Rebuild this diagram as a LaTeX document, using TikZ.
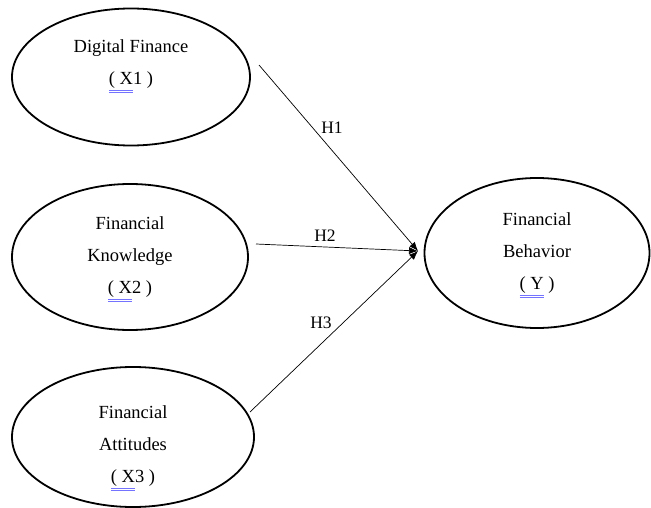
\documentclass[tikz,border=0pt]{standalone}
\usepackage{fontspec}
\setmainfont{Liberation Serif}
\newfontfamily\tnr{Liberation Serif}
\usetikzlibrary{shapes.geometric,arrows.meta}
\newcommand{\spl}[1]{{\color{blue!55}\underline{\underline{\color{black}#1}}}}
\begin{document}
\begin{tikzpicture}[x=1pt,y=-1pt,
  var/.style={draw=black,line width=1.8pt,ellipse,inner sep=0pt},
  lbl/.style={font=\tnr\fontsize{18.5}{32}\selectfont,align=center,inner sep=0pt},
  hyp/.style={line width=0.7pt,-{Latex[length=9pt,width=7pt]}},
  hl/.style={font=\tnr\fontsize{17.5}{20}\selectfont,inner sep=0pt}]
\useasboundingbox (0,0) rectangle (651,508);
\node[var,minimum width=238pt,minimum height=137pt] (x1) at (131,77) {};
\node[var,minimum width=236pt,minimum height=146pt] (x2) at (130,257) {};
\node[var,minimum width=242pt,minimum height=140pt] (x3) at (133,437) {};
\node[var,minimum width=225pt,minimum height=150pt] (y) at (537,253) {};
\node[lbl] (t1) at (131,66) {Digital Finance\\\spl{( X}1 )};
\node[lbl] (t2) at (130,259) {Financial\\Knowledge\\\spl{( X}2 )};
\node[lbl] (t3) at (133,448) {Financial\\Attitudes\\\spl{( X}3 )};
\node[lbl] (ty) at (537,255) {Financial\\Behavior\\\spl{( Y} )};
\coordinate (s1) at (259,65);
\coordinate (s2) at (256,244);
\coordinate (s3) at (250,412);
\coordinate (tip) at (418,251);
\draw[hyp] (s1) -- (tip);
\draw[hyp] (s2) -- (tip);
\draw[hyp] (s3) -- (tip);
\node[hl] (h1) at (332,128) {H1};
\node[hl] (h2) at (325,236) {H2};
\node[hl] (h3) at (321,323) {H3};
\end{tikzpicture}
\end{document}
